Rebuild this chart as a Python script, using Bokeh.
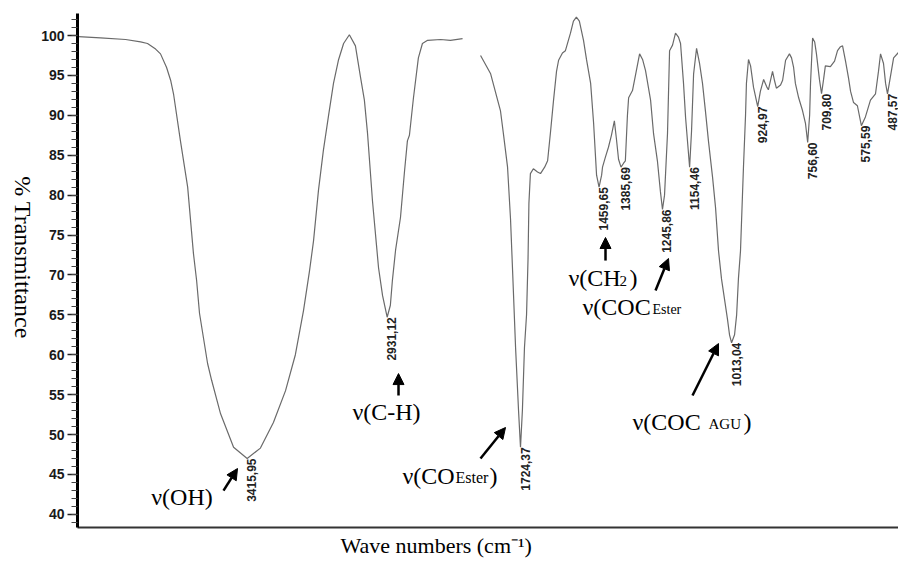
from math import pi
from bokeh.plotting import figure
from bokeh.models import (Range1d, FixedTicker, Label, Arrow, NormalHead,
                          ColumnDataSource, Title)
from bokeh.embed import file_html
from bokeh.resources import INLINE
from bokeh.core.properties import value

# ---------------- data ----------------
# left panel: 4000 - 2670 cm-1
wn_left = [4000, 3924, 3837, 3785, 3761, 3733, 3716, 3695, 3681, 3671,
           3647, 3622, 3602, 3591, 3581, 3553, 3539, 3508, 3463, 3415.95,
           3370, 3325, 3283, 3249, 3221, 3200, 3186, 3169, 3152, 3134,
           3117, 3100, 3082, 3062, 3041, 3023, 3010, 2999, 2982, 2968,
           2961, 2947, 2931.12, 2920, 2913, 2902, 2885, 2871, 2861, 2854,
           2840, 2823, 2809, 2791, 2746, 2712, 2670]
t_left = [99.85, 99.7, 99.5, 99.2, 99.0, 98.3, 97.7, 96.0, 94.4, 92.7,
          86.8, 81.0, 72.7, 69.3, 65.2, 58.9, 56.8, 52.6, 48.4, 47.0,
          48.3, 51.5, 55.5, 60.0, 65.5, 70.5, 74.3, 80.6, 85.6, 90.0,
          94.0, 96.9, 99.0, 100.1, 98.7, 94.7, 91.9, 87.7, 79.3, 73.7,
          70.9, 67.4, 64.7, 66.2, 69.3, 73.1, 77.2, 83.0, 86.8, 87.5,
          92.2, 97.2, 99.0, 99.4, 99.5, 99.4, 99.6]

# right panel: 1859 - 450 cm-1
wn_right = [1859, 1825, 1792, 1782, 1768, 1758, 1751, 1741, 1731, 1724.37,
            1718, 1711, 1704, 1699, 1696, 1691, 1681, 1667, 1657, 1643,
            1633, 1623, 1613, 1603, 1596, 1583, 1573, 1556, 1546, 1536,
            1526, 1512, 1502, 1488, 1478, 1468, 1459.65, 1451, 1448, 1438,
            1428, 1418, 1408, 1401, 1394, 1385.69, 1377, 1371, 1364, 1360,
            1347, 1337, 1323, 1313, 1303, 1286, 1276, 1263, 1253, 1245.86,
            1239, 1229, 1222, 1212, 1202, 1192, 1185, 1175, 1168, 1154.46,
            1148, 1141, 1131, 1121, 1111, 1101, 1091, 1077, 1067, 1057,
            1047, 1037, 1027, 1020, 1013.04, 1003, 996, 990, 983, 973,
            966, 963, 956, 949, 939, 924.97, 916, 905, 895, 889,
            875, 868, 862, 848, 841, 831, 818, 811, 804, 798,
            787, 774, 764, 756.60, 750, 747, 740, 733, 727, 717,
            709.80, 703, 697, 680, 666, 656, 646, 639, 629, 619,
            612, 602, 589, 575.59, 562, 545, 528, 518, 511, 501,
            494, 487.57, 477, 467, 450]
t_right = [97.5, 95.2, 90.6, 87.7, 83.5, 77.0, 70.5, 60.9, 53.0, 48.4,
           53.0, 60.9, 65.0, 72.0, 79.0, 82.7, 83.3, 82.9, 82.7, 83.5,
           84.3, 88.0, 91.9, 95.5, 96.9, 97.8, 98.1, 100.3, 101.8, 102.3,
           101.8, 99.4, 97.0, 94.0, 89.0, 82.5, 81.0, 82.5, 83.5, 84.8,
           86.0, 87.5, 89.3, 87.0, 84.5, 83.5, 84.0, 84.3, 90.0, 92.2,
           93.1, 95.0, 97.7, 97.0, 95.6, 91.9, 87.7, 84.3, 80.5, 78.2,
           80.0, 87.7, 98.1, 98.8, 100.3, 99.8, 99.0, 94.0, 89.7, 83.5,
           88.0, 95.2, 98.4, 96.5, 94.0, 90.5, 86.8, 82.2, 78.4, 73.0,
           69.5, 67.0, 64.5, 62.5, 61.5, 62.5, 65.0, 69.5, 73.0, 83.5,
           90.0, 94.0, 97.0, 96.2, 93.5, 91.1, 93.0, 94.5, 93.6, 93.2,
           95.5, 94.3, 93.4, 93.8, 94.4, 96.9, 97.7, 97.2, 96.0, 94.0,
           92.2, 90.6, 89.0, 86.6, 90.0, 94.0, 99.7, 99.2, 97.7, 94.5,
           92.7, 94.5, 96.2, 96.1, 96.8, 98.1, 98.6, 98.7, 96.8, 94.7,
           93.0, 91.6, 91.2, 88.7, 89.8, 91.9, 92.7, 95.5, 97.7, 96.5,
           94.0, 92.7, 95.0, 97.2, 97.9]

# labelled band minima
peaks_left = [3415.95, 2931.12]
peaks_right = [1724.37, 1459.65, 1385.69, 1245.86, 1154.46, 1013.04,
               924.97, 756.60, 709.80, 575.59, 487.57]

# y axis ticks
y_major = list(range(40, 101, 5))
y_minor = list(range(38, 103))

# ---------------- figure ----------------
CURVE = "#6a6a6a"
SERIF = "Liberation Serif"

p = figure(width=898, height=562, output_backend="svg", toolbar_location=None,
           x_range=Range1d(4003.5, 1160.3), y_range=Range1d(38.35, 102.76),
           min_border_left=77, min_border_right=0, min_border_top=13,
           min_border_bottom=35)
p.extra_x_ranges = {"right": Range1d(3217.3, 450.5)}
p.outline_line_color = None
p.grid.visible = False
p.background_fill_color = "white"
p.border_fill_color = "white"

p.line(wn_left, t_left, line_color=CURVE, line_width=1.2)
p.line(wn_right, t_right, line_color=CURVE, line_width=1.2, x_range_name="right")

# axes
yax = p.yaxis[0]
yax.ticker = FixedTicker(ticks=y_major, minor_ticks=y_minor)
yax.axis_line_width = 3
yax.axis_line_color = "black"
yax.major_tick_in = 0
yax.major_tick_out = 10
yax.major_tick_line_width = 1.5
yax.major_tick_line_color = "#222222"
yax.minor_tick_in = 0
yax.minor_tick_out = 6
yax.minor_tick_line_width = 1
yax.minor_tick_line_color = "#444444"
yax.major_label_text_font = "Liberation Sans"
yax.major_label_text_font_size = "14px"
yax.major_label_text_font_style = "bold"
yax.major_label_text_color = "#1a1a1a"
yax.major_label_standoff = 3

xax = p.xaxis[0]
xax.ticker = FixedTicker(ticks=[])
xax.major_label_text_font_size = "0px"
xax.major_label_standoff = 0
xax.major_tick_out = 0
xax.minor_tick_out = 0
xax.major_tick_line_color = None
xax.minor_tick_line_color = None
xax.axis_line_color = "#333333"
xax.axis_line_width = 2

p.add_layout(Title(text="Wave numbers (cm⁻¹)", align="left", offset=263,
                   text_font=SERIF, text_font_size="22px",
                   text_font_style="normal", text_color="black",
                   standoff=7), "below")

# y axis title, reading downwards, placed in the left side panel
p.add_layout(Label(x=10, y=270, x_units="screen", y_units="screen",
                   text="% Transmittance", angle=-pi / 2,
                   text_align="center", text_baseline="alphabetic",
                   text_font=SERIF, text_font_size="24px",
                   text_color="black"), "left")

# peak value labels
def fmt(v):
    return f"{v:.2f}".replace(".", ",")

src_l = ColumnDataSource(dict(x=peaks_left,
                              y=[t_left[wn_left.index(v)] for v in peaks_left],
                              text=[fmt(v) for v in peaks_left]))
src_r = ColumnDataSource(dict(x=peaks_right,
                              y=[t_right[wn_right.index(v)] for v in peaks_right],
                              text=[fmt(v) for v in peaks_right]))
for src, rng in ((src_l, "default"), (src_r, "right")):
    p.text(x="x", y="y", text="text", source=src, x_range_name=rng,
           angle=pi / 2, text_align="right", text_baseline="top",
           text_font=value("Liberation Sans"), text_font_size="12px",
           text_font_style="bold", text_color="#222222")

# band assignment annotations
def lab(text, x, y, rng="default", size=24, align="left", dx=0, dy=0):
    p.add_layout(Label(x=x, y=y, x_range_name=rng, text=text,
                       text_font=SERIF, text_font_size=f"{size}px",
                       text_align=align, text_baseline="alphabetic",
                       x_offset=dx, y_offset=dy, text_color="black"))

def arrow(x0, y0, x1, y1, rng="default"):
    p.add_layout(Arrow(end=NormalHead(size=11, fill_color="black",
                                      line_color="black", line_width=1),
                       x_start=x0, y_start=y0, x_end=x1, y_end=y1,
                       line_width=2.5, line_color="black", x_range_name=rng))

lab("ν(OH)", 3641.6, 42.14, align="center")
arrow(3497.9, 42.98, 3449.4, 45.74)

lab("ν(C-H)", 2933.4, 52.8, align="center")
arrow(2891.8, 54.89, 2891.8, 57.64)

lab("ν(CO", 2122.0, 44.86, rng="right")
lab("Ester", 2122.0, 44.86, rng="right", size=16, dx=53, dy=-2)
lab(")", 2122.0, 44.86, rng="right", dx=87)
arrow(1859.2, 46.99, 1774.9, 50.88, rng="right")

lab("ν(CH", 1562.6, 69.64, rng="right")
lab("2", 1562.6, 69.64, rng="right", size=15, dx=51, dy=-3)
lab(")", 1562.6, 69.64, rng="right", dx=61)
arrow(1437.9, 71.80, 1437.9, 74.69, rng="right")

lab("ν(COC", 1515.4, 65.95, rng="right")
lab("Ester", 1515.4, 65.95, rng="right", size=14, dx=70, dy=-2)
arrow(1269.4, 68.05, 1225.6, 72.06, rng="right")

lab("ν(COC", 1346.9, 51.54, rng="right")
lab("AGU", 1346.9, 51.54, rng="right", size=15, dx=76, dy=-2)
lab(")", 1346.9, 51.54, rng="right", dx=111)
arrow(1144.7, 54.89, 1057.1, 61.40, rng="right")

open("out.html", "w").write(file_html(p, INLINE))
